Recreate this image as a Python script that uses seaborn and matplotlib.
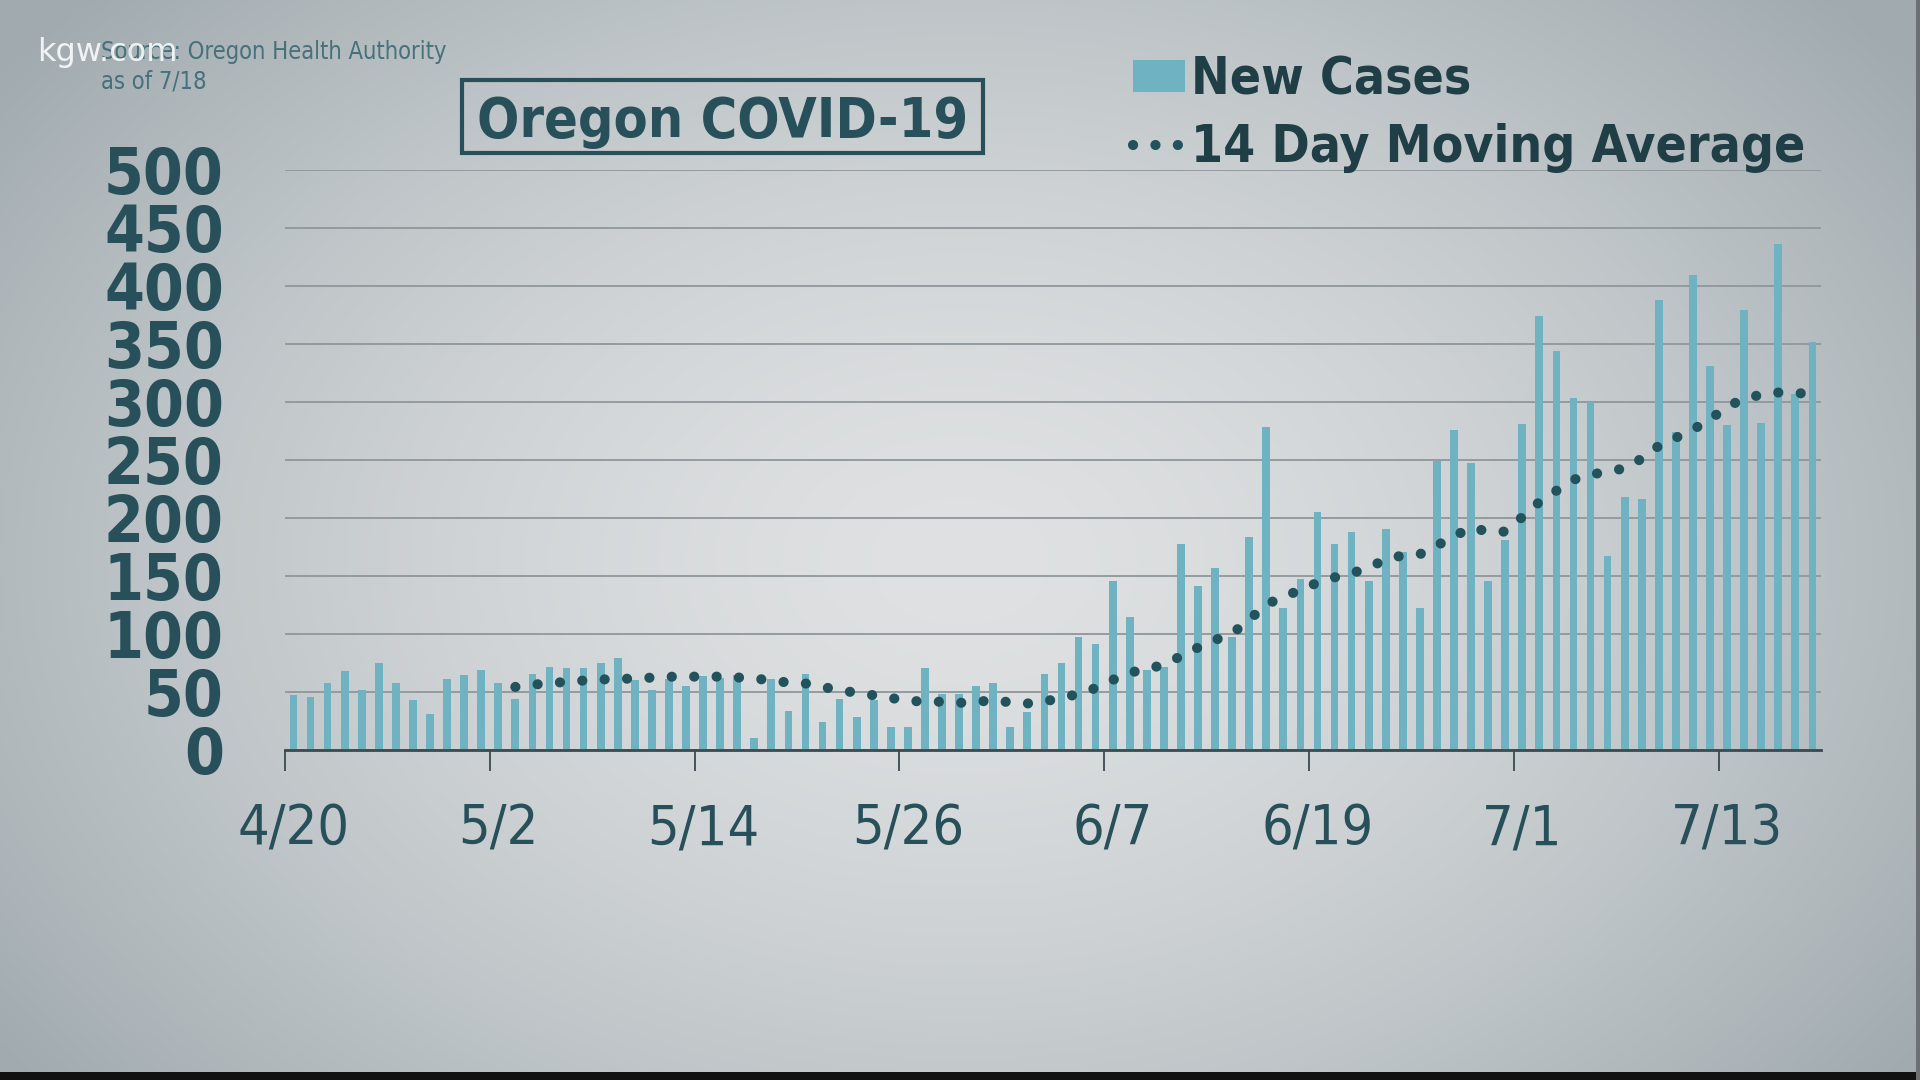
import datetime as dt
import numpy as np
import pandas as pd
import matplotlib
matplotlib.use("Agg")
import matplotlib.pyplot as plt
from matplotlib import font_manager as fm
from matplotlib.lines import Line2D
from matplotlib.patches import Patch, Rectangle
import seaborn as sns

# ---------------- data ----------------
start = dt.date(2020, 4, 20)
dates = [start + dt.timedelta(days=i) for i in range(90)]
date_labels = [f"{d.month}/{d.day}" for d in dates]

new_cases = [47, 45, 57, 68, 51, 75, 57, 43, 31, 61, 64, 69,
             57, 44, 65, 71, 70, 70, 75, 79, 60, 51, 61, 55,
             63, 62, 64, 10, 61, 33, 65, 24, 44, 28, 43, 19,
             19, 70, 48, 48, 55, 57, 19, 32, 65, 75, 97, 91,
             145, 114, 69, 71, 177, 141, 157, 97, 183, 278, 122, 147,
             205, 177, 188, 145, 190, 170, 122, 249, 276, 247, 145, 181,
             281, 374, 344, 303, 300, 167, 218, 216, 388, 274, 409, 331,
             280, 379, 282, 436, 307, 352]

# 14 day moving average, first value on 5/3
ma_first_label = "5/3"
moving_avg = [54, 56, 57, 58.5, 59.5, 60.5, 60.6, 61.5, 62, 62.8,
              62.9, 62.9, 62.9, 62.2, 61.2, 59.7, 57.7, 57, 54, 51.2,
              48.9, 46.8, 44.5, 42, 41.4, 41.2, 40.3, 40.8, 43, 40.5,
              39.7, 41.5, 44.5, 48, 53, 60, 66.5, 69, 73.5, 80.5,
              88, 94.5, 100, 112, 125, 132, 137.5, 144, 148.5, 152,
              157, 164, 167.5, 168.5, 176, 184, 191.5, 188, 188, 200.6,
              213.5, 223.3, 232.8, 237, 240, 242.5, 251, 262, 269, 276,
              285, 295.5, 303, 306, 308, 307.5, 307]

y_ticks = [0, 50, 100, 150, 200, 250, 300, 350, 400, 450, 500]
label_every = 12

# ---------------- styling ----------------
BAR = "#6fb3c3"
DOT = "#22525b"
DARK = "#27505a"
LEG = "#1f3e45"
SRC = "#46707a"
GRID = "#8f979b"

ttf = fm.fontManager.ttflist
names = {f.name for f in ttf}
NARROW = "Liberation Sans Narrow" if "Liberation Sans Narrow" in names else None
COND = any(f.name == "DejaVu Sans" and str(f.stretch) in ("condensed", "semi-condensed")
           for f in ttf)
STRETCH = "condensed" if COND else "normal"


def fs(normal, cond):
    return cond if COND else normal


sns.set_theme(style="white")
plt.rcParams["font.family"] = ["DejaVu Sans"]

fig = plt.figure(figsize=(19.2, 10.8), dpi=100)

# background radial gradient
bg = fig.add_axes([0, 0, 1, 1], zorder=-10)
yy, xx = np.mgrid[0:1:540j, 0:1:960j]
r = np.sqrt(((xx - 0.5) / 0.62) ** 2 + ((yy - 0.52) / 0.78) ** 2)
t = np.clip(r, 0, 1) ** 1.6
c0 = np.array([0xdf, 0xe1, 0xe2]) / 255
c1 = np.array([0xa0, 0xaa, 0xaf]) / 255
img = c0[None, None, :] * (1 - t[..., None]) + c1[None, None, :] * t[..., None]
bg.imshow(img, extent=[0, 1, 0, 1], aspect="auto", origin="upper")
bg.set_axis_off()

# main axes
ax = fig.add_axes([0.1484, 0.306, 0.8, 0.5366])
ax.set_facecolor("none")

df = pd.DataFrame({"pos": np.arange(len(new_cases)), "label": date_labels,
                   "cases": new_cases})
sns.barplot(data=df, x="pos", y="cases", native_scale=True, color=BAR,
            saturation=1, width=0.45, ax=ax, zorder=2, linewidth=0)

i0 = date_labels.index(ma_first_label)
ma_df = pd.DataFrame({"pos": df["pos"].iloc[i0:i0 + len(moving_avg)].values,
                      "ma": moving_avg})
sns.lineplot(data=ma_df, x="pos", y="ma", ax=ax, color=DOT, linewidth=7.3,
             linestyle=(0, (0.01, 2.2)), dash_capstyle="round", zorder=3)

ax.set_xlim(-0.5, len(new_cases) - 0.5)
ax.set_ylim(0, 500)
ax.set_xlabel("")
ax.set_ylabel("")

ax.set_yticks(y_ticks)
ax.set_yticklabels([str(v) for v in y_ticks])
for lab in ax.get_yticklabels():
    lab.set_fontweight("bold")
    lab.set_fontsize(fs(42, 46))
    lab.set_fontstretch(STRETCH)
    lab.set_color(DARK)
ax.tick_params(axis="y", length=0, pad=44)
ax.yaxis.grid(True, color=GRID, linewidth=1.3)
ax.xaxis.grid(False)
ax.set_axisbelow(True)

major = list(range(0, len(new_cases), label_every))
ax.set_xticks(major)
ax.set_xticklabels([date_labels[i] for i in major])
ax.set_xticks([p - 0.5 for p in major], minor=True)
ax.tick_params(axis="x", which="major", length=0, pad=38)
ax.tick_params(axis="x", which="minor", length=15, width=1.3, color="#3a4a50",
               direction="out", bottom=True)
if NARROW:
    xfam, xsize, xstretch = [NARROW, "DejaVu Sans"], 44, "normal"
else:
    xfam, xsize, xstretch = ["DejaVu Sans"], fs(36, 40), STRETCH
for lab in ax.get_xticklabels():
    lab.set_family(xfam)
    lab.set_fontsize(xsize)
    lab.set_fontstretch(xstretch)
    lab.set_color(DARK)

for s in ["left", "right", "top"]:
    ax.spines[s].set_visible(False)
ax.spines["bottom"].set_color("#3a4a50")
ax.spines["bottom"].set_linewidth(2)
ax.spines["bottom"].set_zorder(4)

# title box
fig.patches.append(Rectangle((462 / 1920, 1 - 153 / 1080), 521 / 1920, 73 / 1080,
                             transform=fig.transFigure, fill=False,
                             edgecolor=DARK, linewidth=3))
fig.text(0.3763, 0.873, "Oregon COVID-19", ha="center", va="baseline",
         fontsize=fs(36, 40), fontweight="bold", fontstretch=STRETCH, color=DARK)

# legend
handles = [Patch(facecolor=BAR, edgecolor="none"),
           Line2D([0], [0], color=DOT, linewidth=7.3, linestyle=(0, (0.01, 2.2)),
                  dash_capstyle="round")]
leg_size = fs(33, 37)
px = leg_size * 1.389
leg = fig.legend(handles, ["New Cases", "14 Day Moving Average"],
                 loc="upper left", bbox_to_anchor=(1133 / 1920, 0.949),
                 frameon=False, borderpad=0, borderaxespad=0,
                 handlelength=52 / px, handleheight=31 / px,
                 handletextpad=6 / px, labelspacing=18 / px,
                 prop={"weight": "bold", "size": leg_size, "stretch": STRETCH})
for txt in leg.get_texts():
    txt.set_color(LEG)

# source notes
if NARROW:
    sfam, ssize, sstretch = [NARROW, "DejaVu Sans"], 18, "normal"
else:
    sfam, ssize, sstretch = ["DejaVu Sans"], fs(15.3, 17), STRETCH
fig.text(101 / 1920, 0.9454, "Source: Oregon Health Authority", ha="left",
         va="baseline", fontsize=ssize, family=sfam, fontstretch=sstretch, color=SRC)
fig.text(101 / 1920, 0.9185, "as of 7/18", ha="left", va="baseline",
         fontsize=ssize, family=sfam, fontstretch=sstretch, color=SRC)
fig.text(37 / 1920, 0.9435, "kgw.com", ha="left", va="baseline", fontsize=23,
         color="white", alpha=0.85)

# frame artifacts of the broadcast still
fig.patches.append(Rectangle((0, 0), 1, 8 / 1080, transform=fig.transFigure,
                             facecolor="#111111", edgecolor="none"))
fig.patches.append(Rectangle((1 - 4 / 1920, 0), 4 / 1920, 1, transform=fig.transFigure,
                             facecolor="#6a7074", edgecolor="none"))

fig.savefig("out.png", dpi=100)
